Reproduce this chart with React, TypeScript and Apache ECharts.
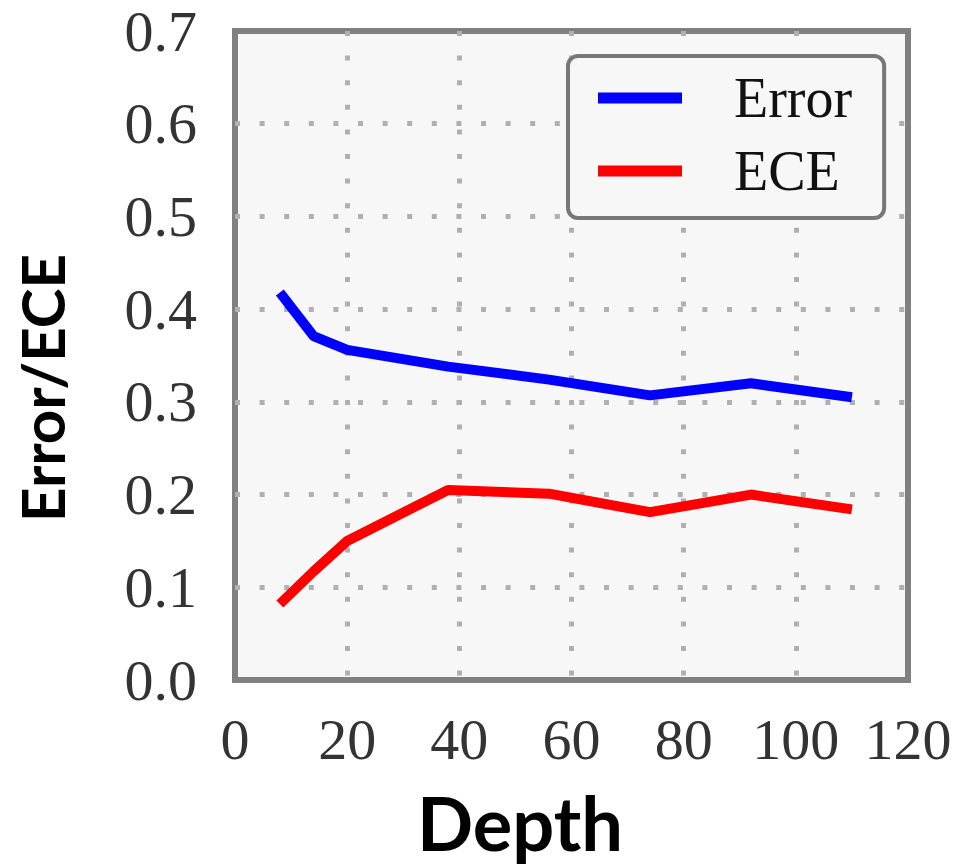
import React, { useEffect, useRef } from "react";
import * as echarts from "echarts";

const depths = [8, 14, 20, 38, 56, 74, 92, 110];
const errorValues = [0.418, 0.371, 0.356, 0.338, 0.324, 0.307, 0.32, 0.305];
const eceValues = [0.082, 0.117, 0.15, 0.205, 0.201, 0.181, 0.2, 0.184];
const seriesNames = ["Error", "ECE"];
const xTitle = "Depth";
const yTitle = "Error/ECE";

export default function App() {
  const ref = useRef<HTMLDivElement>(null);
  useEffect(() => {
    if (!ref.current) return;
    const chart = echarts.init(ref.current, null, { renderer: "svg" });
    const serif = "Liberation Serif";
    const split = {
      show: true,
      showMinLine: false,
      showMaxLine: false,
      lineStyle: { type: [5, 19.6], color: "#b0b0b0", width: 5 },
    };
    chart.setOption({
      animation: false,
      backgroundColor: "#ffffff",
      grid: {
        left: 235,
        top: 31,
        right: 54,
        bottom: 186,
        show: true,
        backgroundColor: "#f7f7f7",
        borderColor: "#808080",
        borderWidth: 6,
      },
      graphic: [
        {
          type: "text",
          x: 42,
          y: 388,
          rotation: Math.PI / 2,
          style: {
            text: yTitle,
            fontFamily: "Lato",
            fontWeight: "bold",
            fontSize: 60,
            fill: "#000000",
            align: "center",
            verticalAlign: "middle",
          },
        },
        {
          type: "text",
          x: 520,
          y: 822,
          style: {
            text: xTitle,
            fontFamily: "Lato",
            fontWeight: "bold",
            fontSize: 74,
            fill: "#000000",
            align: "center",
            verticalAlign: "middle",
          },
        },
      ],
      legend: {
        orient: "vertical",
        left: 568,
        top: 56,
        padding: [13, 32, 18, 30],
        backgroundColor: "#f7f7f7",
        borderColor: "#777777",
        borderWidth: 4,
        borderRadius: 10,
        itemWidth: 84,
        itemHeight: 11,
        itemGap: 15,
        icon: "rect",
        data: seriesNames,
        textStyle: {
          fontFamily: serif,
          fontSize: 56,
          color: "#111111",
          padding: [0, 0, 0, 47],
          lineHeight: 58,
        },
      },
      xAxis: {
        type: "value",
        min: 0,
        max: 120,
        interval: 20,
        axisLine: { show: false },
        axisTick: { show: false },
        axisLabel: {
          fontFamily: serif,
          fontSize: 58,
          color: "#333333",
          margin: 30,
        },
        splitLine: split,
      },
      yAxis: {
        type: "value",
        min: 0,
        max: 0.7,
        interval: 0.1,
        axisLine: { show: false },
        axisTick: { show: false },
        axisLabel: {
          fontFamily: serif,
          fontSize: 58,
          color: "#333333",
          margin: 38,
          formatter: (v: number) => v.toFixed(1),
        },
        splitLine: split,
      },
      series: [
        {
          name: seriesNames[0],
          type: "line",
          data: depths.map((d, i) => [d, errorValues[i]]),
          showSymbol: false,
          symbol: "none",
          lineStyle: { color: "#0000ff", width: 10 },
          itemStyle: { color: "#0000ff" },
        },
        {
          name: seriesNames[1],
          type: "line",
          data: depths.map((d, i) => [d, eceValues[i]]),
          showSymbol: false,
          symbol: "none",
          lineStyle: { color: "#ff0000", width: 10 },
          itemStyle: { color: "#ff0000" },
        },
      ],
    });
    return () => chart.dispose();
  }, []);
  return (
    <div
      ref={ref}
      style={{ position: "fixed", left: 0, top: 0, width: 962, height: 866 }}
    />
  );
}
